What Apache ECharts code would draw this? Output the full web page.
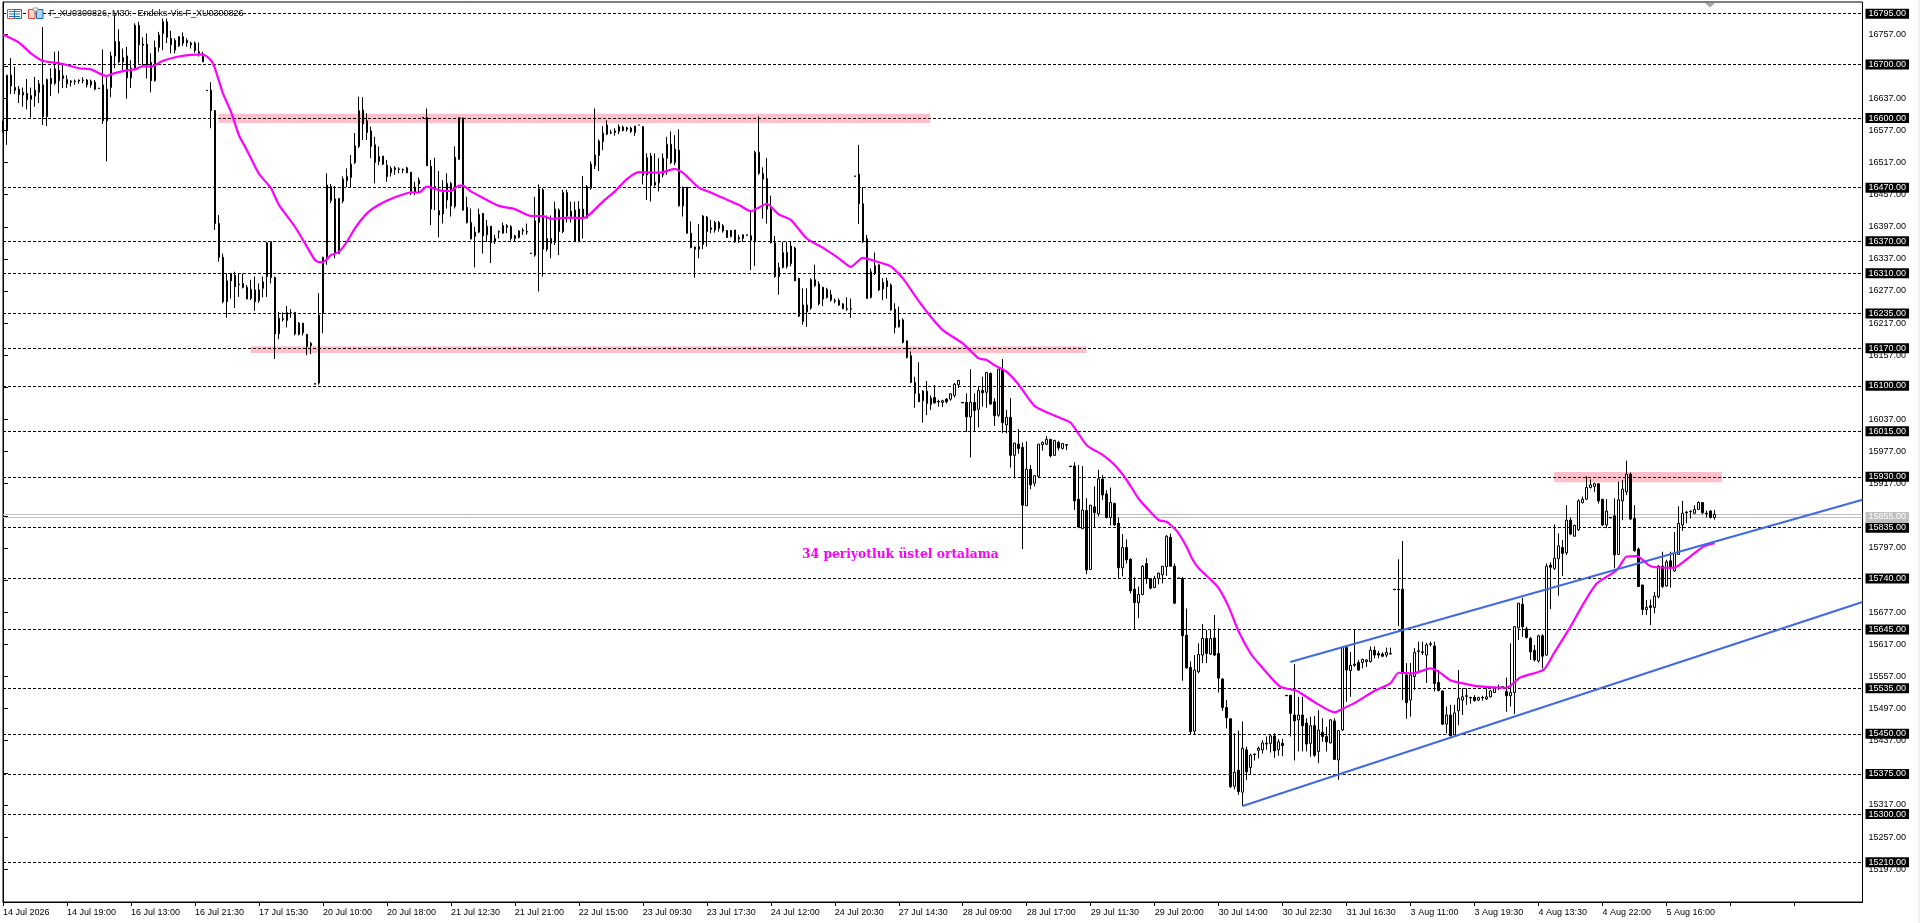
<!DOCTYPE html>
<html>
<head>
<meta charset="utf-8">
<title>F_XU0300826 M30</title>
<script src="https://cdn.jsdelivr.net/npm/echarts@6/dist/echarts.min.js"></script>
<style>
html,body{margin:0;padding:0;background:#fff;overflow:hidden}
#c{position:absolute;left:0;top:0;width:1920px;height:923px}
#s{position:absolute;left:1918px;top:0;width:2px;height:923px;background:#f0f0f0}
</style>
</head>
<body>
<div id="c"></div><div id="s"></div>
<script>
const dateLabels = ['14 Jul 2026','14 Jul 19:00','16 Jul 13:00','16 Jul 21:30','17 Jul 15:30','20 Jul 10:00','20 Jul 18:00','21 Jul 12:30','21 Jul 21:00','22 Jul 15:00','23 Jul 09:30','23 Jul 17:30','24 Jul 12:00','24 Jul 20:30','27 Jul 14:30','28 Jul 09:00','28 Jul 17:00','29 Jul 11:30','29 Jul 20:00','30 Jul 14:00','30 Jul 22:30','31 Jul 16:30','3 Aug 11:00','3 Aug 19:30','4 Aug 13:30','4 Aug 22:00','5 Aug 16:00'];
const priceTicks = [15197,15257,15317,15377,15437,15497,15557,15617,15677,15737,15797,15857,15917,15977,16037,16097,16157,16217,16277,16337,16397,16457,16517,16577,16637,16697,16757];
const levels = [16795,16700,16600,16470,16370,16310,16235,16170,16100,16015,15930,15835,15740,15645,15535,15450,15375,15300,15210];
const bidAsk = [15860,15854];
const lastPrice = 15855;
// open, close, low, high
const ohlc = [
[16590,16575,16573,16595],[16577,16680,16550,16681],[16680,16660,16645,16712],[16657,16652,16645,16696],[16654,16644,16628,16660],[16643,16648,16621,16657],[16646,16634,16616,16673],[16635,16642,16601,16657],[16641,16652,16621,16677],[16648,16664,16628,16671],
[16662,16603,16587,16770],[16603,16672,16585,16674],[16674,16664,16641,16693],[16665,16692,16662,16724],[16689,16670,16646,16725],[16679,16674,16656,16702],[16664,16672,16656,16680],[16669,16667,16659,16671],[16668,16669,16662,16672],[16669,16671,16664,16672],
[16670,16671,16665,16676],[16671,16662,16657,16673],[16662,16669,16657,16672],[16667,16654,16652,16671],[16656,16655,16655,16656],[16662,16595,16589,16728],[16595,16654,16519,16676],[16657,16716,16639,16724],[16716,16743,16693,16793],[16743,16705,16702,16766],
[16705,16713,16690,16730],[16716,16675,16636,16733],[16675,16693,16656,16708],[16693,16773,16690,16777],[16773,16737,16702,16780],[16738,16736,16699,16751],[16738,16699,16674,16758],[16704,16670,16648,16721],[16670,16732,16668,16745],[16732,16755,16724,16761],
[16758,16780,16727,16786],[16780,16751,16740,16786],[16749,16737,16721,16763],[16745,16727,16721,16749],[16735,16752,16733,16753],[16752,16740,16735,16760],[16745,16741,16733,16749],[16740,16737,16730,16743],[16740,16726,16722,16743],[16724,16721,16715,16741],
[16715,16705,16705,16724],[16652,16651,16651,16652],[16652,16614,16581,16667],[16614,16403,16391,16615],[16403,16340,16332,16419],[16340,16257,16254,16347],[16257,16296,16227,16310],[16296,16310,16263,16310],[16306,16285,16245,16313],[16290,16289,16266,16310],
[16291,16284,16282,16310],[16284,16262,16262,16288],[16263,16280,16260,16298],[16279,16257,16240,16304],[16259,16279,16255,16291],[16282,16294,16265,16304],[16304,16367,16266,16369],[16369,16302,16291,16369],[16302,16197,16150,16304],[16197,16226,16187,16238],
[16225,16224,16220,16237],[16222,16237,16209,16249],[16237,16236,16227,16243],[16237,16197,16194,16238],[16196,16217,16194,16219],[16217,16199,16194,16217],[16196,16173,16157,16196],[16179,16175,16159,16182],[16104,16103,16103,16105],[16105,16232,16102,16273],
[16235,16340,16198,16341],[16341,16475,16326,16497],[16472,16446,16441,16477],[16449,16347,16338,16473],[16347,16450,16346,16450],[16445,16486,16441,16491],[16483,16491,16471,16506],[16489,16514,16471,16531],[16517,16548,16514,16572],[16547,16614,16544,16640],
[16615,16589,16559,16639],[16595,16573,16559,16609],[16576,16547,16525,16584],[16550,16517,16478,16565],[16519,16528,16512,16547],[16529,16514,16512,16529],[16512,16491,16481,16522],[16498,16506,16491,16510],[16504,16507,16494,16510],[16505,16504,16497,16508],
[16504,16503,16497,16506],[16507,16498,16497,16509],[16499,16463,16456,16499],[16461,16471,16456,16481],[16477,16484,16461,16489],[16601,16600,16600,16601],[16601,16511,16511,16618],[16510,16430,16400,16522],[16472,16467,16428,16526],[16427,16419,16377,16501],
[16421,16461,16403,16484],[16447,16478,16431,16497],[16478,16436,16416,16481],[16435,16527,16431,16547],[16523,16601,16522,16601],[16600,16428,16428,16601],[16433,16405,16403,16453],[16405,16374,16374,16431],[16379,16387,16321,16397],[16387,16420,16385,16431],
[16422,16380,16347,16422],[16382,16398,16369,16410],[16398,16367,16329,16398],[16369,16375,16365,16382],[16388,16387,16375,16390],[16385,16399,16384,16405],[16399,16396,16385,16402],[16397,16375,16371,16400],[16375,16380,16369,16382],[16377,16389,16375,16391],
[16391,16389,16382,16395],[16388,16387,16382,16403],[16348,16347,16347,16348],[16344,16408,16341,16453],[16405,16468,16276,16476],[16466,16355,16304,16469],[16355,16375,16351,16418],[16375,16366,16338,16418],[16368,16430,16363,16444],[16428,16388,16344,16431],
[16388,16461,16385,16466],[16461,16417,16405,16466],[16416,16426,16405,16444],[16428,16369,16369,16444],[16369,16430,16369,16445],[16430,16413,16375,16492],[16413,16472,16413,16475],[16469,16514,16466,16519],[16511,16531,16505,16618],[16530,16557,16501,16560],
[16556,16572,16540,16585],[16587,16570,16568,16596],[16573,16572,16570,16578],[16576,16573,16567,16581],[16575,16584,16570,16588],[16583,16577,16575,16586],[16579,16582,16575,16584],[16581,16575,16572,16584],[16573,16585,16567,16585],[16587,16587,16587,16587],
[16584,16493,16476,16585],[16494,16526,16447,16534],[16529,16474,16444,16535],[16475,16480,16472,16534],[16479,16495,16463,16525],[16494,16525,16489,16534],[16525,16551,16494,16565],[16551,16517,16514,16575],[16517,16542,16512,16568],[16540,16436,16435,16579],
[16436,16469,16416,16472],[16471,16385,16384,16471],[16385,16358,16357,16407],[16359,16355,16302,16360],[16355,16360,16338,16402],[16364,16417,16355,16419],[16415,16388,16360,16417],[16395,16392,16385,16410],[16391,16405,16386,16408],[16405,16394,16388,16408],
[16399,16389,16386,16402],[16390,16377,16376,16391],[16379,16390,16377,16391],[16391,16369,16367,16391],[16374,16377,16367,16382],[16375,16382,16369,16383],[16382,16381,16381,16382],[16380,16372,16316,16428],[16369,16536,16324,16539],[16536,16497,16494,16603],
[16496,16486,16412,16508],[16487,16430,16403,16525],[16430,16367,16366,16455],[16367,16304,16302,16380],[16304,16321,16270,16330],[16321,16349,16319,16369],[16349,16323,16319,16369],[16328,16361,16323,16369],[16357,16296,16296,16360],[16301,16230,16229,16301],
[16220,16251,16214,16282],[16251,16238,16210,16282],[16245,16298,16242,16301],[16298,16287,16285,16326],[16290,16253,16250,16295],[16262,16284,16249,16285],[16280,16265,16263,16283],[16270,16260,16257,16279],[16259,16258,16254,16263],[16259,16251,16249,16263],
[16253,16244,16243,16254],[16244,16243,16240,16265],[16244,16243,16227,16263],[16492,16491,16491,16492],[16495,16440,16402,16550],[16440,16369,16367,16471],[16375,16263,16263,16382],[16265,16313,16263,16319],[16310,16324,16307,16349],[16326,16279,16277,16326],
[16281,16293,16260,16301],[16296,16285,16263,16302],[16288,16242,16240,16291],[16243,16209,16198,16254],[16210,16223,16209,16248],[16223,16181,16179,16226],[16184,16153,16151,16184],[16156,16106,16105,16164],[16106,16086,16059,16117],[16085,16070,16070,16144],
[16072,16090,16031,16092],[16090,16067,16045,16109],[16065,16077,16055,16082],[16078,16068,16067,16101],[16071,16070,16061,16074],[16069,16072,16060,16074],[16075,16070,16067,16077],[16075,16085,16072,16086],[16082,16103,16078,16105],[16102,16110,16096,16111],
[16069,16068,16068,16069],[16069,16042,16014,16086],[16042,16069,15966,16131],[16069,16054,16014,16086],[16056,16091,16022,16098],[16091,16087,16061,16117],[16088,16125,16059,16125],[16123,16066,16064,16125],[16070,16044,16025,16077],[16045,16131,16042,16131],
[16131,16031,16012,16150],[16027,16041,16011,16055],[16041,15970,15947,16077],[15970,15993,15927,15993],[15991,15983,15973,16019],[15985,15877,15795,15994],[15876,15944,15876,15996],[15944,15915,15907,15952],[15918,15932,15912,15933],[15931,15991,15930,15991],
[15990,15994,15979,15996],[15991,16000,15989,16006],[16000,15969,15966,16000],[15970,15998,15969,15999],[15994,15984,15979,15997],[15983,15992,15981,15993],[15990,15989,15980,15991],[15950,15949,15949,15950],[15950,15885,15868,15957],[15888,15836,15834,15952],
[15833,15868,15833,15950],[15867,15756,15748,15890],[15757,15877,15756,15877],[15874,15863,15836,15912],[15861,15926,15856,15943],[15926,15896,15887,15933],[15898,15854,15852,15905],[15854,15882,15839,15910],[15880,15840,15839,15882],[15843,15760,15739,15854],
[15760,15798,15744,15823],[15798,15775,15768,15813],[15776,15717,15712,15778],[15720,15695,15645,15742],[15695,15710,15666,15725],[15710,15763,15709,15765],[15768,15740,15730,15778],[15740,15722,15720,15740],[15723,15740,15722,15745],[15740,15750,15729,15751],
[15747,15763,15731,15763],[15762,15819,15745,15821],[15817,15763,15762,15824],[15763,15694,15692,15768],[15741,15740,15740,15741],[15740,15633,15549,15743],[15634,15573,15572,15684],[15574,15454,15449,15585],[15455,15569,15449,15597],[15566,15598,15563,15619],
[15597,15628,15582,15655],[15628,15600,15582,15644],[15599,15628,15597,15644],[15629,15597,15595,15672],[15600,15554,15527,15647],[15552,15499,15493,15554],[15499,15480,15460,15513],[15478,15351,15349,15478],[15352,15378,15346,15451],[15382,15342,15336,15456],
[15341,15423,15315,15473],[15420,15379,15364,15426],[15387,15410,15373,15413],[15412,15411,15400,15413],[15419,15423,15404,15426],[15420,15433,15413,15438],[15432,15431,15420,15445],[15432,15446,15415,15448],[15446,15418,15405,15451],[15420,15435,15409,15440],
[15432,15428,15408,15441],[15522,15521,15521,15522],[15522,15488,15445,15522],[15485,15474,15400,15580],[15476,15485,15417,15519],[15485,15465,15417,15519],[15470,15431,15417,15479],[15432,15465,15407,15482],[15465,15410,15407,15483],[15417,15457,15395,15494],
[15453,15445,15435,15479],[15445,15435,15417,15463],[15433,15476,15432,15477],[15474,15402,15401,15479],[15401,15456,15364,15457],[15457,15611,15455,15613],[15611,15569,15510,15613],[15568,15578,15519,15603],[15580,15578,15575,15645],[15583,15569,15568,15588],
[15583,15589,15572,15590],[15585,15588,15575,15589],[15585,15606,15583,15613],[15606,15597,15591,15613],[15600,15597,15591,15605],[15599,15595,15593,15602],[15597,15602,15593,15611],[15600,15599,15598,15611],[15720,15719,15719,15720],[15720,15719,15651,15776],
[15720,15562,15513,15810],[15560,15508,15478,15582],[15513,15560,15482,15582],[15557,15602,15532,15610],[15605,15604,15563,15622],[15603,15602,15597,15622],[15597,15616,15545,15620],[15618,15617,15613,15622],[15614,15544,15529,15622],[15546,15531,15529,15569],
[15530,15468,15466,15530],[15468,15485,15451,15501],[15485,15446,15446,15504],[15448,15489,15448,15504],[15493,15516,15466,15569],[15513,15519,15485,15535],[15521,15520,15504,15535],[15518,15517,15506,15519],[15518,15512,15510,15522],[15513,15518,15511,15519],
[15518,15517,15512,15521],[15515,15519,15513,15535],[15519,15530,15518,15532],[15527,15535,15526,15538],[15537,15536,15532,15542],[15538,15538,15538,15538],[15529,15521,15491,15555],[15521,15527,15501,15619],[15527,15650,15487,15651],[15648,15694,15625,15694],
[15692,15650,15631,15704],[15646,15630,15628,15650],[15628,15603,15588,15631],[15606,15588,15585,15616],[15586,15633,15583,15635],[15633,15595,15572,15636],[15597,15763,15596,15768],[15765,15761,15683,15770],[15759,15778,15756,15841],[15777,15801,15708,15824],
[15798,15787,15745,15812],[15788,15849,15784,15877],[15849,15823,15821,15854],[15819,15839,15818,15841],[15831,15885,15829,15888],[15882,15888,15880,15893],[15888,15910,15887,15931],[15910,15915,15908,15925],[15912,15917,15902,15919],[15917,15885,15880,15917],
[15888,15840,15838,15888],[15840,15866,15834,15888],[15854,15853,15853,15854],[15857,15784,15759,15890],[15785,15887,15784,15921],[15885,15907,15849,15924],[15902,15935,15896,15960],[15935,15851,15849,15938],[15852,15792,15790,15877],[15795,15725,15725,15798],
[15728,15682,15672,15728],[15682,15686,15672,15700],[15689,15686,15653,15701],[15686,15707,15675,15715],[15706,15763,15703,15765],[15763,15725,15722,15790],[15726,15771,15725,15775],[15773,15760,15723,15790],[15754,15787,15753,15827],[15785,15843,15784,15875],
[15840,15862,15829,15885],[15864,15863,15843,15866],[15866,15865,15852,15867],[15862,15869,15860,15877],[15869,15882,15868,15884],[15882,15863,15860,15882],[15862,15861,15854,15867],[15866,15854,15852,15868],[15854,15860,15850,15868]
];
const emaBars = [0,4,7,10,15,19,22,25,26,28,31,33,35,37,40,44,47,50,52,53,55,57,59,61,64,67,69,73,76,78,79,80,82,84,86,88,91,94,98,102,104,106,110,112,114,115,117,119,124,128,132,135,137,142,145,147,150,153,156,159,163,165,168,170,174,177,180,184,187,191,194,197,201,205,209,212,215,218,222,225,229,232,235,240,244,246,248,251,254,258,264,267,271,275,278,281,284,289,291,293.6,296,297.3,299,302,304,306.5,309,312,314.4,319.4,323.6,328,333,334,338.6,342.7,346.9,349,352.7,356.9,359,361.9,364,368.6,376,379.4,385.3,387.8,391.5,395.3,398.6,403.6,406,408.6,412,417.8,421.9,425.3,428];
const emaValues = [16756,16741,16721,16707,16701,16693,16691,16680,16679,16684,16689,16691,16697,16696,16707,16715,16718,16719,16708,16693,16646,16612,16568,16540,16496,16469,16438,16397,16360,16335,16331,16331,16344,16350,16369,16394,16422,16438,16452,16461,16461,16472,16464,16464,16474,16474,16463,16455,16436,16430,16417,16417,16412,16414,16413,16422,16444,16463,16486,16499,16498,16499,16505,16498,16470,16461,16451,16438,16426,16440,16420,16410,16375,16358,16338,16322,16339,16333,16323,16301,16258,16229,16204,16179,16151,16148,16138,16126,16102,16062,16041,16031,15989,15971,15952,15924,15889,15849,15846,15828,15799,15778,15759,15738,15722,15687,15641,15600,15578,15538,15530,15509,15490,15493,15510,15529,15544,15564,15563,15572,15566,15550,15546,15539,15536,15555,15570,15600,15644,15694,15731,15756,15781,15782,15763,15760,15781,15800,15806];
const channelUpper = [[321.9,15584],[465,15887]];
const channelLower = [[310,15315],[465,15696]];
const pinkZones = [[53.9,231.9,16591,16608],[61.9,270.9,16161,16174],[387.9,429.9,15920,15939]];
const titleText = 'F_XU0300826, M30:- Endeks-Vis F_XU0300826';
const noteText = '34 periyotluk üstel ortalama';

const FONT = '"Liberation Sans",sans-serif';
const FS = 9;
const BARS_ACROSS = 466, LABEL_STEP = 16;
const categories = Array.from({length:BARS_ACROSS},(_, i)=> i % LABEL_STEP === 0 ? (dateLabels[i/LABEL_STEP] || '') : '');
const emaData = emaBars.map((b,i)=>[b,emaValues[i]]);
const fmt = v => v.toFixed(2);
const tagLabel = (bg) => ({show:true,position:'end',distance:3,formatter:p=>fmt(p.value),color:'#fff',backgroundColor:bg,fontFamily:FONT,fontSize:FS,fontWeight:'normal',padding:[1,3,0,3],lineHeight:9});

const chart = echarts.init(document.getElementById('c'),null,{renderer:'canvas'});
chart.setOption({
  animation:false,
  backgroundColor:'#fff',
  textStyle:{fontFamily:FONT},
  grid:{left:2.5,right:57.5,top:2,bottom:21,show:true,borderColor:'#000',borderWidth:1,backgroundColor:'#fff'},
  xAxis:[
    {type:'category',data:categories,boundaryGap:false,
      axisLine:{lineStyle:{color:'#000',width:1}},
      axisTick:{interval:LABEL_STEP-1,length:4,lineStyle:{color:'#000'}},
      axisLabel:{interval:LABEL_STEP-1,color:'#000',fontFamily:FONT,fontSize:FS,align:'left',margin:6,showMinLabel:true,showMaxLabel:false,hideOverlap:false},
      splitLine:{show:false}},
    {type:'value',min:0,max:BARS_ACROSS-1,show:false,splitLine:{show:false}}
  ],
  yAxis:{type:'value',position:'right',min:15135.8,max:16816.8,
    axisLine:{show:true,lineStyle:{color:'#000',width:1}},
    axisTick:{show:true,length:5,customValues:priceTicks,lineStyle:{color:'#000'}},
    axisLabel:{color:'#000',fontFamily:FONT,fontSize:FS,margin:6,customValues:priceTicks,formatter:fmt,showMinLabel:true,showMaxLabel:true,hideOverlap:false},
    splitLine:{show:false}},
  series:[
    {type:'line',xAxisIndex:1,data:[],silent:true,z:1,
      markArea:{silent:true,itemStyle:{color:'#ffc0cb',opacity:1},
        data:pinkZones.map(p=>[{xAxis:p[0],yAxis:p[2]},{xAxis:p[1],yAxis:p[3]}])}},
    {type:'line',xAxisIndex:1,data:[],silent:true,z:2,
      markLine:{silent:true,symbol:'none',animation:false,precision:2,
        lineStyle:{color:'#c0c0c0',type:'solid',width:1},
        label:{show:false},
        data:bidAsk.map(v=>({yAxis:v}))}},
    {type:'line',xAxisIndex:1,data:[],silent:true,z:3,
      markLine:{silent:true,symbol:'none',animation:false,precision:2,
        lineStyle:{color:'rgba(192,192,192,0)',type:'solid',width:1},
        label:tagLabel('#c0c0c0'),
        data:[{yAxis:lastPrice,label:tagLabel('#c0c0c0')}]}},
    {type:'line',xAxisIndex:1,data:[],silent:true,z:4,
      markLine:{silent:true,symbol:'none',animation:false,precision:2,
        lineStyle:{color:'#000',type:[3,2],width:1},
        label:tagLabel('#000'),
        data:levels.map(v=>({yAxis:v,label:tagLabel('#000')}))}},
    {type:'candlestick',data:ohlc,barWidth:2,z:5,silent:true,
      itemStyle:{color:'#fff',color0:'#000',borderColor:'#000',borderColor0:'#000',borderColorDoji:'#000',borderWidth:1}},
    {type:'line',xAxisIndex:1,data:emaData,showSymbol:false,symbol:'none',z:6,silent:true,smooth:0.2,
      lineStyle:{color:'#ff00ff',width:2.2}},
    {type:'line',xAxisIndex:1,data:channelUpper,showSymbol:false,symbol:'none',z:7,silent:true,
      lineStyle:{color:'#4169e1',width:2}},
    {type:'line',xAxisIndex:1,data:channelLower,showSymbol:false,symbol:'none',z:7,silent:true,
      lineStyle:{color:'#4169e1',width:2}}
  ],
  graphic:[
    {type:'text',left:49,top:9,z:50,style:{text:titleText,fill:'#000',fontFamily:FONT,fontSize:FS}},
    {type:'text',left:802,top:549,z:50,style:{text:noteText,fill:'#ff00ff',fontFamily:'"DejaVu Serif",serif',fontSize:12.3,fontWeight:'bold'}},
    {type:'polygon',z:50,shape:{points:[[1705,3],[1715,3],[1710,7.5]]},style:{fill:'#a8a8a8'}},
    {type:'rect',z:50,shape:{x:7.5,y:9.5,width:7,height:9},style:{fill:'#fff',stroke:'#e8443a',lineWidth:1}},
    {type:'rect',z:50,shape:{x:14.5,y:9.5,width:7,height:9},style:{fill:'#fff',stroke:'#1c6cb0',lineWidth:1}},
    {type:'rect',z:50,shape:{x:9,y:11,width:11,height:1},style:{fill:'#e8443a'}},
    {type:'rect',z:50,shape:{x:9,y:13.5,width:11,height:1},style:{fill:'#1c6cb0'}},
    {type:'rect',z:50,shape:{x:9,y:16,width:11,height:1},style:{fill:'#1c6cb0'}},
    {type:'rect',z:50,shape:{x:28.5,y:9.5,width:6.5,height:9},style:{fill:'#fcd5cd',stroke:'#e8443a',lineWidth:1}},
    {type:'rect',z:50,shape:{x:36.5,y:9.5,width:6.5,height:9},style:{fill:'#a9d6f5',stroke:'#1c6cb0',lineWidth:1}},
    {type:'rect',z:50,shape:{x:33,y:8,width:5,height:3},style:{fill:'#fff',stroke:'#999',lineWidth:1}}
  ]
});
</script>
</body>
</html>
